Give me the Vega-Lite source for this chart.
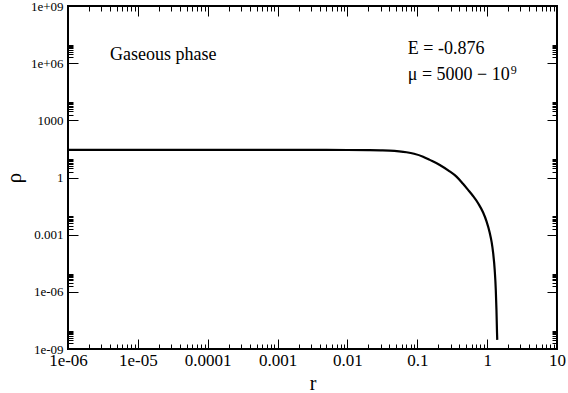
{
  "$schema": "https://vega.github.io/schema/vega-lite/v6.json",
  "width": 489,
  "height": 343,
  "autosize": {"type": "none"},
  "padding": {"left": 68, "top": 6, "right": 11, "bottom": 44},
  "background": "white",
  "config": {
    "view": {"stroke": "black", "strokeWidth": 2},
    "font": "Liberation Serif",
    "axis": {"domain": false, "grid": false, "tickColor": "black", "tickWidth": 1, "labelColor": "black", "titleColor": "black", "titleFontWeight": "normal", "labelFont": "Liberation Serif", "titleFont": "Liberation Serif", "labelOverlap": false, "labelFlush": false}
  },
  "datasets": {
    "curve": [
      {"r": 1e-6, "rho": 28},
      {"r": 1e-5, "rho": 28},
      {"r": 1e-4, "rho": 28},
      {"r": 1e-3, "rho": 28},
      {"r": 0.005, "rho": 28},
      {"r": 0.01, "rho": 27.8},
      {"r": 0.02, "rho": 27.2},
      {"r": 0.03, "rho": 26.6},
      {"r": 0.04, "rho": 25.8},
      {"r": 0.055, "rho": 23.6},
      {"r": 0.07, "rho": 21.1},
      {"r": 0.09, "rho": 17.6},
      {"r": 0.121, "rho": 12.4},
      {"r": 0.151, "rho": 8.4},
      {"r": 0.21, "rho": 4.55},
      {"r": 0.28, "rho": 2.3},
      {"r": 0.364, "rho": 1.107},
      {"r": 0.448, "rho": 0.48},
      {"r": 0.53, "rho": 0.23},
      {"r": 0.628, "rho": 0.107},
      {"r": 0.75, "rho": 0.0419},
      {"r": 0.873, "rho": 0.0149},
      {"r": 0.98, "rho": 0.00497},
      {"r": 1.089, "rho": 0.00126},
      {"r": 1.16, "rho": 4.04e-4},
      {"r": 1.216, "rho": 1.18e-4},
      {"r": 1.285, "rho": 1.3e-5},
      {"r": 1.33, "rho": 1.26e-6},
      {"r": 1.359, "rho": 1.17e-7},
      {"r": 1.385, "rho": 7.1e-9},
      {"r": 1.395, "rho": 3.0e-9}
    ],
    "notes": [
      {"r": 3.99e-6, "rho": 2.69e6, "label": "Gaseous phase"},
      {"r": 0.0731, "rho": 5.55e6, "label": "E = -0.876"},
      {"r": 0.0731, "rho": 2.4e5, "label": "μ = 5000 − 10"}
    ],
    "sup": [
      {"r": 2.18, "rho": 4.38e5, "label": "9"}
    ]
  },
  "resolve": {"axis": {"x": "independent", "y": "independent"}},
  "layer": [
    {
      "data": {"name": "curve"},
      "mark": {"type": "line", "color": "black", "strokeWidth": 2.2, "interpolate": "monotone"},
      "encoding": {
        "x": {"field": "r", "type": "quantitative",
          "scale": {"type": "log", "domain": [1e-6, 10], "nice": false},
          "axis": {"orient": "bottom",
            "values": [1e-6,2e-6,3e-6,4e-6,5e-6,6e-6,7e-6,8e-6,9e-6,1e-5,2e-5,3e-5,4e-5,5e-5,6e-5,7e-5,8e-5,9e-5,1e-4,2e-4,3e-4,4e-4,5e-4,6e-4,7e-4,8e-4,9e-4,0.001,0.002,0.003,0.004,0.005,0.006,0.007,0.008,0.009,0.01,0.02,0.03,0.04,0.05,0.06,0.07,0.08,0.09,0.1,0.2,0.3,0.4,0.5,0.6,0.7,0.8,0.9,1,2,3,4,5,6,7,8,9,10],
            "labelExpr": "abs(log(datum.value)/LN10 - round(log(datum.value)/LN10)) < 0.001 ? ['1e-06','1e-05','0.0001','0.001','0.01','0.1','1','10'][round(log(datum.value)/LN10)+6] : ''",
            "tickSize": {"condition": {"test": "abs(log(datum.value)/LN10 - round(log(datum.value)/LN10)) < 0.001", "value": -10}, "value": -5},
            "labelPadding": 13,
            "labelFontSize": 17,
            "title": "r",
            "titleFontSize": 20,
            "titlePadding": 0}},
        "y": {"field": "rho", "type": "quantitative",
          "scale": {"type": "log", "domain": [1e-9, 1e9], "nice": false},
          "axis": {"orient": "left",
            "values": [1e-9,2e-9,3e-9,4e-9,5e-9,6e-9,7e-9,8e-9,9e-9,1e-6,2e-6,3e-6,4e-6,5e-6,6e-6,7e-6,8e-6,9e-6,0.001,0.002,0.003,0.004,0.005,0.006,0.007,0.008,0.009,1,2,3,4,5,6,7,8,9,1000,2000,3000,4000,5000,6000,7000,8000,9000,1e6,2e6,3e6,4e6,5e6,6e6,7e6,8e6,9e6,1e9],
            "labelExpr": "abs(log(datum.value)/LN10 - round(log(datum.value)/LN10)) < 0.001 ? ['1e-09','1e-06','0.001','1','1000','1e+06','1e+09'][round((round(log(datum.value)/LN10)+9)/3)] : ''",
            "tickSize": {"condition": {"test": "abs(log(datum.value)/LN10 - round(log(datum.value)/LN10)) < 0.001", "value": -10}, "value": -5},
            "labelPadding": 15,
            "labelFontSize": 13,
            "title": "ρ",
            "titleFontSize": 21,
            "titlePadding": 6}}
      }
    },
    {
      "data": {"name": "curve"},
      "mark": {"type": "line", "strokeOpacity": 0},
      "encoding": {
        "x": {"field": "r", "type": "quantitative",
          "scale": {"type": "log", "domain": [1e-6, 10], "nice": false},
          "axis": {"orient": "top", "labels": false, "title": null,
            "values": [1e-6,2e-6,3e-6,4e-6,5e-6,6e-6,7e-6,8e-6,9e-6,1e-5,2e-5,3e-5,4e-5,5e-5,6e-5,7e-5,8e-5,9e-5,1e-4,2e-4,3e-4,4e-4,5e-4,6e-4,7e-4,8e-4,9e-4,0.001,0.002,0.003,0.004,0.005,0.006,0.007,0.008,0.009,0.01,0.02,0.03,0.04,0.05,0.06,0.07,0.08,0.09,0.1,0.2,0.3,0.4,0.5,0.6,0.7,0.8,0.9,1,2,3,4,5,6,7,8,9,10],
            "tickSize": {"condition": {"test": "abs(log(datum.value)/LN10 - round(log(datum.value)/LN10)) < 0.001", "value": -10}, "value": -5}}},
        "y": {"field": "rho", "type": "quantitative",
          "scale": {"type": "log", "domain": [1e-9, 1e9], "nice": false},
          "axis": {"orient": "right", "labels": false, "title": null,
            "values": [1e-9,2e-9,3e-9,4e-9,5e-9,6e-9,7e-9,8e-9,9e-9,1e-6,2e-6,3e-6,4e-6,5e-6,6e-6,7e-6,8e-6,9e-6,0.001,0.002,0.003,0.004,0.005,0.006,0.007,0.008,0.009,1,2,3,4,5,6,7,8,9,1000,2000,3000,4000,5000,6000,7000,8000,9000,1e6,2e6,3e6,4e6,5e6,6e6,7e6,8e6,9e6,1e9],
            "tickSize": {"condition": {"test": "abs(log(datum.value)/LN10 - round(log(datum.value)/LN10)) < 0.001", "value": -10}, "value": -5}}}
      }
    },
    {
      "data": {"name": "notes"},
      "mark": {"type": "text", "align": "left", "baseline": "middle", "fontSize": 18, "font": "Liberation Serif", "color": "black"},
      "encoding": {
        "x": {"field": "r", "type": "quantitative", "scale": {"type": "log", "domain": [1e-6, 10], "nice": false}, "axis": null},
        "y": {"field": "rho", "type": "quantitative", "scale": {"type": "log", "domain": [1e-9, 1e9], "nice": false}, "axis": null},
        "text": {"field": "label"}
      }
    },
    {
      "data": {"name": "sup"},
      "mark": {"type": "text", "align": "left", "baseline": "middle", "fontSize": 12, "font": "Liberation Serif", "color": "black"},
      "encoding": {
        "x": {"field": "r", "type": "quantitative", "scale": {"type": "log", "domain": [1e-6, 10], "nice": false}, "axis": null},
        "y": {"field": "rho", "type": "quantitative", "scale": {"type": "log", "domain": [1e-9, 1e9], "nice": false}, "axis": null},
        "text": {"field": "label"}
      }
    }
  ]
}
